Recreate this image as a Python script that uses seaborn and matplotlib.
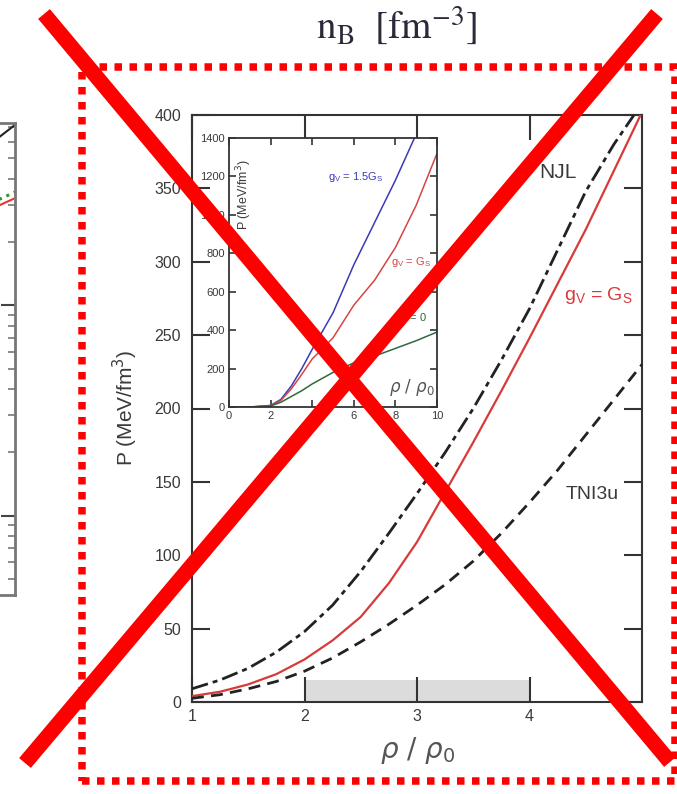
import matplotlib
matplotlib.use("Agg")
import matplotlib.pyplot as plt
import seaborn as sns
from matplotlib.lines import Line2D
from matplotlib.patches import Rectangle
from matplotlib.ticker import NullFormatter

# ---------------- data: main panel ----------------
rho = [1.0, 1.25, 1.5, 1.75, 2.0, 2.25, 2.5, 2.75, 3.0, 3.25, 3.5, 3.75, 4.0, 4.25, 4.5, 4.75, 5.0]
p_njl = [9, 15, 23, 34, 48, 66, 89, 115, 142, 170, 200, 233, 268, 308, 348, 380, 408]
p_gv_gs = [4, 7, 12, 19, 29, 42, 58, 81, 109, 143, 177, 212, 248, 285, 322, 362, 402]
p_tni3u = [2.5, 5, 9, 14, 21, 30, 41, 53, 66, 80, 96, 115, 136, 158, 182, 206, 230]
band_range = [2, 4]
band_top = 15
main_xticks = [1, 2, 3, 4]
main_yticks = [0, 50, 100, 150, 200, 250, 300, 350, 400]

# ---------------- data: inset ----------------
inset_rho = [0, 1, 2, 2.5, 3, 3.5, 4, 5, 6, 7, 8, 9, 10]
p_gv15 = [0, 0, 8, 40, 110, 200, 300, 490, 740, 960, 1180, 1420, 1650]
p_gv1 = [0, 0, 6, 35, 95, 170, 250, 360, 530, 660, 830, 1050, 1320]
p_gv0 = [0, 0, 5, 25, 55, 85, 120, 180, 230, 265, 305, 345, 390]
inset_xticks = [0, 2, 4, 6, 8, 10]
inset_yticks = [0, 200, 400, 600, 800, 1000, 1200, 1400]

# ---------------- data: partial neighbour panel ----------------
left_x = [0.9, 1.0]
left_black = [600, 720]
left_green = [310, 345]
left_red = [290, 323]

sns.set_style("ticks")
plt.rcParams["font.family"] = ["Liberation Sans", "DejaVu Sans"]
plt.rcParams["mathtext.fontset"] = "dejavusans"

W, H = 677, 794
fig = plt.figure(figsize=(W / 100, H / 100), dpi=100)
fig.patch.set_facecolor("white")


def rect(x0, y0, x1, y1):
    return [x0 / W, 1 - y1 / H, (x1 - x0) / W, (y1 - y0) / H]


def fx(x):
    return x / W


def fy(y):
    return 1 - y / H


TXT = "#3a3a3a"

# ---------------- partial left panel ----------------
axl = fig.add_axes(rect(-200, 123, 15, 595))
axl.set_yscale("log")
axl.set_xlim(0, 1)
axl.set_ylim(4.2, 735)
sns.lineplot(x=left_x, y=left_black, ax=axl, color="#222222", lw=1.5)
sns.lineplot(x=left_x, y=left_green, ax=axl, color="#2a9a2a", lw=2.2, linestyle=":")
sns.lineplot(x=left_x, y=left_red, ax=axl, color="#ee3333", lw=1.5)
axl.yaxis.tick_right()
axl.tick_params(axis="y", which="major", direction="in", length=10, width=1.5, color="#444")
axl.tick_params(axis="y", which="minor", direction="in", length=5, width=1.2, color="#777")
axl.yaxis.set_major_formatter(NullFormatter())
axl.yaxis.set_minor_formatter(NullFormatter())
axl.set_xticks([])
for s in axl.spines.values():
    s.set_color("#777777")
    s.set_linewidth(2)

# ---------------- main panel ----------------
ax = fig.add_axes(rect(192, 115, 642, 702))
ax.set_axisbelow(False)
ax.fill_between(band_range, [0, 0], [band_top, band_top], color="#dcdcdc", lw=0, zorder=1)
sns.lineplot(x=rho, y=p_njl, ax=ax, color="#222222", lw=2.0,
             linestyle=(0, (6, 1.8, 1.8, 1.8)), zorder=3)
sns.lineplot(x=rho, y=p_gv_gs, ax=ax, color="#d83a3a", lw=1.6, zorder=3)
sns.lineplot(x=rho, y=p_tni3u, ax=ax, color="#222222", lw=2.0,
             linestyle=(0, (4.3, 2.6)), zorder=3)
ax.set_xlim(1, 5)
ax.set_ylim(0, 400)
ax.set_xticks(main_xticks)
ax.set_yticks(main_yticks)
ax.set_xticklabels([str(v) for v in main_xticks])
ax.set_yticklabels([str(v) for v in main_yticks])
ax.tick_params(axis="x", direction="in", length=18, width=1.5, top=True, pad=5,
               labelsize=11.5, labelcolor=TXT, color="#333")
ax.tick_params(axis="y", direction="in", length=13, width=1.5, right=True, pad=8,
               labelsize=11.5, labelcolor=TXT, color="#333")
for s in ax.spines.values():
    s.set_color("#333333")
    s.set_linewidth(1.5)
ax.set_xlabel("")
ax.set_ylabel("")

fig.text(fx(125), fy(408), "P (MeV/fm$^3$)", rotation=90, ha="center", va="center",
         fontsize=15, color=TXT)
fig.text(fx(418), fy(750), r"$\rho\ /\ \rho_0$", ha="center", va="center",
         fontsize=20, color="#555555")
fig.text(fx(558), fy(172), "NJL", ha="center", va="center", fontsize=15, color=TXT)
fig.text(fx(592), fy(494), "TNI3u", ha="center", va="center", fontsize=14, color=TXT)
fig.text(fx(598), fy(295), r"g$_\mathregular{V}$ = G$_\mathregular{S}$", ha="center",
         va="center", fontsize=14, color="#d83a3a")

# ---------------- inset ----------------
axi = fig.add_axes(rect(229, 138, 437, 407))
sns.lineplot(x=inset_rho, y=p_gv15, ax=axi, color="#3a3ab8", lw=1.1)
sns.lineplot(x=inset_rho, y=p_gv1, ax=axi, color="#d84444", lw=1.1)
sns.lineplot(x=inset_rho, y=p_gv0, ax=axi, color="#2f6a3a", lw=1.1)
axi.set_xlim(0, 10)
axi.set_ylim(0, 1400)
axi.set_xticks(inset_xticks)
axi.set_yticks(inset_yticks)
axi.set_xticklabels([str(v) for v in inset_xticks])
axi.set_yticklabels([str(v) for v in inset_yticks])
axi.tick_params(direction="in", length=5, width=1.2, top=True, right=True, pad=3,
                labelsize=8, labelcolor=TXT, color="#333")
for s in axi.spines.values():
    s.set_color("#333333")
    s.set_linewidth(1.3)
axi.set_xlabel("")
axi.set_ylabel("")
fig.text(fx(244), fy(195), "P (MeV/fm$^3$)", rotation=90, ha="center", va="center",
         fontsize=9, color=TXT)
fig.text(fx(356), fy(177), r"g$_\mathregular{V}$ = 1.5G$_\mathregular{S}$", ha="center",
         va="center", fontsize=8, color="#3a3ab8")
fig.text(fx(411), fy(262), r"g$_\mathregular{V}$ = G$_\mathregular{S}$", ha="center",
         va="center", fontsize=8, color="#d84444")
fig.text(fx(411), fy(318), r"g$_\mathregular{V}$ = 0", ha="center", va="center",
         fontsize=8, color="#2f6a3a")
fig.text(fx(412), fy(387), r"$\rho\ /\ \rho_0$", ha="center", va="center",
         fontsize=12, color="#555555")

# ---------------- header text ----------------
fig.text(fx(397), fy(38), r"$\mathrm{n_B}\ \ [\mathrm{fm}^{-3}]$", ha="center",
         va="baseline", fontsize=28, color="#2a2a3a", math_fontfamily="stix")

# ---------------- dotted red frame ----------------
frame = Rectangle((fx(82), fy(781)), (675 - 82) / W, (781 - 67) / H,
                  transform=fig.transFigure, fill=False, edgecolor="#ff0000",
                  lw=5.4, linestyle=(0, (1, 1)), zorder=20)
fig.add_artist(frame)

# ---------------- red cross ----------------
for (x0, y0), (x1, y1) in [((44, 14), (670, 762)), ((657, 14), (25, 763))]:
    ln = Line2D([fx(x0), fx(x1)], [fy(y0), fy(y1)], transform=fig.transFigure,
                color="#ff0000", lw=11, solid_capstyle="butt", zorder=30)
    fig.add_artist(ln)

fig.savefig("out.png", dpi=100)
